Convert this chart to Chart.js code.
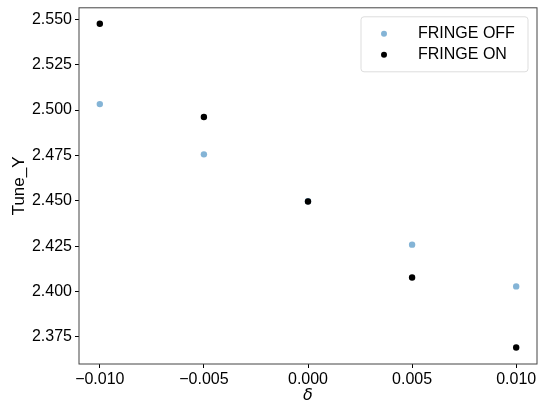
<!DOCTYPE html>
<html>
<head>
<meta charset="utf-8">
<script src="https://cdn.jsdelivr.net/npm/chart.js@4"></script>
<style>
  html, body { margin: 0; padding: 0; background: #fff; }
  #wrap { width: 541px; height: 405px; }
</style>
</head>
<body>
<div id="wrap"><canvas id="chart"></canvas></div>
<script>
// data
const deltas = [-0.010, -0.005, 0.000, 0.005, 0.010];
const fringeOff = [2.5033, 2.4756, 2.4497, 2.4258, 2.4028];
const fringeOn = [2.5476, 2.4962, 2.4496, 2.4077, 2.3691];
const xTicks = [-0.010, -0.005, 0.000, 0.005, 0.010];
const yTicks = [2.375, 2.400, 2.425, 2.450, 2.475, 2.500, 2.525, 2.550];

const FONT = "'Liberation Sans', Arial, sans-serif";
const offColor = 'rgba(31,119,180,0.55)';
const onColor = '#000';

const pts = (ys) => deltas.map((x, i) => ({ x: x, y: ys[i] }));

// frame + legend box like matplotlib
const framePlugin = {
    id: 'frame',
    afterDraw(c) {
        const ctx = c.ctx, a = c.chartArea;
        ctx.save();
        ctx.strokeStyle = '#444';
        ctx.lineWidth = 1;
        ctx.strokeRect(a.left, a.top, a.right - a.left, a.bottom - a.top);

        // legend
        const bx = a.right - 176, by = a.top + 9, bw = 167, bh = 55;
        ctx.fillStyle = 'rgba(255,255,255,0.8)';
        ctx.strokeStyle = '#ddd';
        ctx.beginPath();
        ctx.roundRect(bx, by, bw, bh, 3);
        ctx.fill();
        ctx.stroke();
        ctx.font = '16px ' + FONT;
        ctx.textBaseline = 'middle';
        c.data.datasets.forEach((ds, i) => {
            const y = by + 17 + i * 21;
            ctx.fillStyle = ds.backgroundColor;
            ctx.beginPath();
            ctx.arc(bx + 23, y, 3, 0, Math.PI * 2);
            ctx.fill();
            ctx.fillStyle = '#000';
            ctx.fillText(ds.label, bx + 57, y);
        });
        ctx.restore();
    }
};

new Chart(document.getElementById('chart'), {
    type: 'scatter',
    data: {
        datasets: [
            {
                label: 'FRINGE OFF',
                data: pts(fringeOff),
                backgroundColor: offColor,
                borderWidth: 0,
                pointRadius: 3.2,
                order: 2
            },
            {
                label: 'FRINGE ON',
                data: pts(fringeOn),
                backgroundColor: onColor,
                borderWidth: 0,
                pointRadius: 3.2,
                order: 1
            }
        ]
    },
    options: {
        responsive: true,
        maintainAspectRatio: false,
        animation: false,
        layout: { padding: { left: 0, right: 2, top: 3, bottom: 0 } },
        plugins: {
            legend: { display: false },
            tooltip: { enabled: false }
        },
        scales: {
            x: {
                type: 'linear',
                min: -0.011,
                max: 0.011,
                afterBuildTicks: (s) => { s.ticks = xTicks.map(v => ({ value: v })); },
                afterFit: (s) => { s.height = 41; },
                grid: { drawOnChartArea: false, drawTicks: true, tickLength: 4, color: '#000' },
                border: { display: false },
                ticks: {
                    color: '#000',
                    padding: 2,
                    maxRotation: 0,
                    font: { family: FONT, size: 16 },
                    callback: (v) => (v < 0 ? '\u2212' : '') + Math.abs(v).toFixed(3)
                },
                title: {
                    display: true,
                    text: 'δ',
                    color: '#000',
                    padding: 0,
                    font: { family: "'DejaVu Sans', sans-serif", size: 16, style: 'italic' }
                }
            },
            y: {
                min: 2.36,
                max: 2.5564,
                afterBuildTicks: (s) => { s.ticks = yTicks.map(v => ({ value: v })); },
                afterFit: (s) => { s.width = 79; },
                grid: { drawOnChartArea: false, drawTicks: true, tickLength: 4, color: '#000' },
                border: { display: false },
                ticks: {
                    color: '#000',
                    padding: 3,
                    font: { family: FONT, size: 16, lineHeight: 0.6 },
                    callback: (v) => v.toFixed(3)
                },
                title: {
                    display: true,
                    text: 'Tune_Y',
                    color: '#000',
                    padding: { top: 9, bottom: 0 },
                    font: { family: FONT, size: 17 }
                }
            }
        }
    },
    plugins: [framePlugin]
});
</script>
</body>
</html>
